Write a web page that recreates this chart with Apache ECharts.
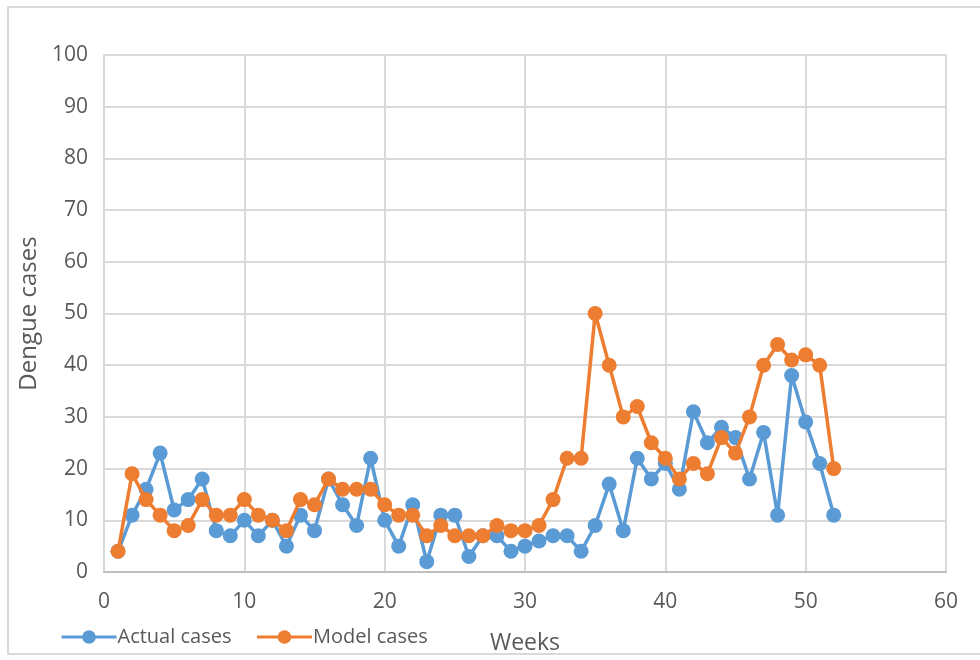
<!DOCTYPE html>
<html>
<head>
<meta charset="utf-8">
<script src="https://cdn.jsdelivr.net/npm/echarts@6/dist/echarts.min.js"></script>
<style>
  html, body { margin: 0; padding: 0; background: #ffffff; }
  #chart { width: 980px; height: 660px; }
</style>
</head>
<body>
<div id="chart"></div>
<script>
// Weekly dengue cases: observed counts vs. model output
const weeks = [1,2,3,4,5,6,7,8,9,10,11,12,13,14,15,16,17,18,19,20,21,22,23,24,25,26,
               27,28,29,30,31,32,33,34,35,36,37,38,39,40,41,42,43,44,45,46,47,48,49,50,51,52];
const actualCases = [4,11,16,23,12,14,18,8,7,10,7,10,5,11,8,18,13,9,22,10,5,13,2,11,11,3,
                     7,7,4,5,6,7,7,4,9,17,8,22,18,21,16,31,25,28,26,18,27,11,38,29,21,11];
const modelCases = [4,19,14,11,8,9,14,11,11,14,11,10,8,14,13,18,16,16,16,13,11,11,7,9,7,7,
                    7,9,8,8,9,14,22,22,50,40,30,32,25,22,18,21,19,26,23,30,40,44,41,42,40,20];
const xTicks = { min: 0, max: 60, step: 10 };
const yTicks = { min: 0, max: 100, step: 10 };

const FONT = '"Open Sans", sans-serif';
const TEXT = '#595959';

const pairs = (ys) => weeks.map((w, i) => [w, ys[i]]);

const chart = echarts.init(document.getElementById('chart'), null, { renderer: 'canvas' });
chart.setOption({
  backgroundColor: '#ffffff',
  animation: false,
  graphic: [{
    type: 'rect',
    shape: { x: 8, y: 7, width: 1000, height: 647 },
    style: { fill: 'none', stroke: '#d9d9d9', lineWidth: 2 },
    silent: true,
    z: -1
  }],
  grid: {
    left: 104, right: 34, top: 55, bottom: 87,
    show: true, borderColor: '#d0d0d0', borderWidth: 1.5
  },
  legend: {
    left: 55, top: 622,
    itemWidth: 55, itemHeight: 17, itemGap: 24,
    lineStyle: { width: 3 },
    textStyle: { fontFamily: FONT, fontSize: 20, color: TEXT, padding: [0, 0, 0, -4] },
    data: ['Actual cases', 'Model cases']
  },
  xAxis: {
    type: 'value',
    min: xTicks.min, max: xTicks.max, interval: xTicks.step,
    name: 'Weeks', nameLocation: 'middle', nameGap: 60,
    nameTextStyle: { fontFamily: FONT, fontSize: 23, color: TEXT },
    axisLine: { show: true, lineStyle: { color: '#bfbfbf', width: 2 } },
    axisTick: { show: false },
    axisLabel: { fontFamily: FONT, fontSize: 21, color: TEXT, margin: 20 },
    splitLine: { show: true, lineStyle: { color: '#d9d9d9', width: 2 } }
  },
  yAxis: {
    type: 'value',
    min: yTicks.min, max: yTicks.max, interval: yTicks.step,
    name: 'Dengue cases', nameLocation: 'middle', nameGap: 56,
    nameTextStyle: { fontFamily: FONT, fontSize: 24, color: TEXT },
    axisLine: { show: false },
    axisTick: { show: false },
    axisLabel: { fontFamily: FONT, fontSize: 21, color: TEXT, margin: 16 },
    splitLine: { show: true, lineStyle: { color: '#d9d9d9', width: 2 } }
  },
  series: [
    {
      name: 'Actual cases', type: 'line',
      data: pairs(actualCases),
      symbol: 'circle', symbolSize: 15,
      lineStyle: { color: '#5b9bd5', width: 3.5 },
      itemStyle: { color: '#5b9bd5' },
      z: 2
    },
    {
      name: 'Model cases', type: 'line',
      data: pairs(modelCases),
      symbol: 'circle', symbolSize: 15,
      lineStyle: { color: '#ed7d31', width: 3.5 },
      itemStyle: { color: '#ed7d31' },
      z: 3
    }
  ]
});
</script>
</body>
</html>
